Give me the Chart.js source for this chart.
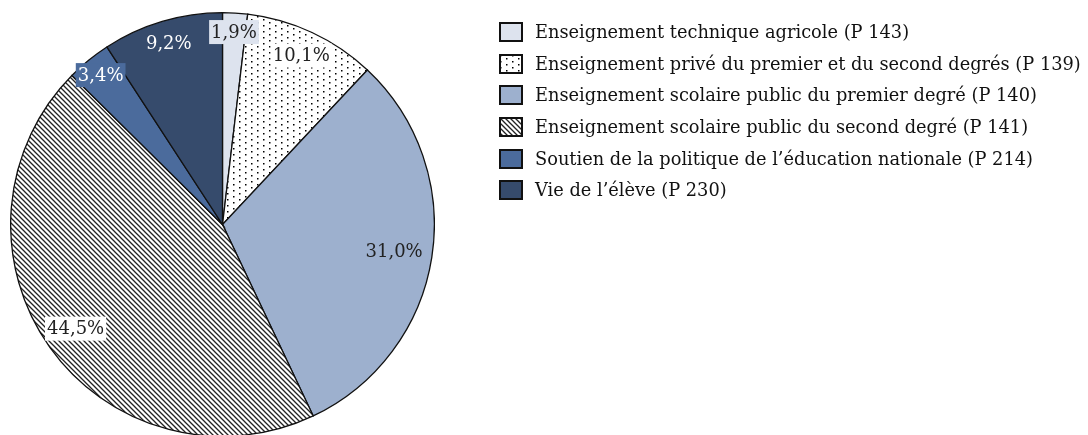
<!DOCTYPE html>
<html>
<head>
<meta charset="utf-8">
<script src="https://cdn.jsdelivr.net/npm/chart.js@4"></script>
<style>
  body { margin: 0; background: #fff; width: 1088px; height: 435px; overflow: hidden; position: relative; font-family: "DejaVu Serif", "Liberation Serif", serif; }
  #pieBox { position: absolute; left: 10px; top: 12px; width: 425px; height: 425px; }
  #legend { position: absolute; left: 499px; top: 21px; }
  .item { height: 31.7px; display: flex; align-items: flex-start; font-size: 17.8px; color: #111; white-space: nowrap; }
  .item canvas { width: 24px; height: 20px; margin-right: 12px; margin-top: 1px; }
</style>
</head>
<body>
<div id="pieBox"><canvas id="pie"></canvas></div>
<div id="legend"></div>
<script>
// data
var labels = ['Enseignement technique agricole (P 143)', 'Enseignement privé du premier et du second degrés (P 139)', 'Enseignement scolaire public du premier degré (P 140)', 'Enseignement scolaire public du second degré (P 141)', 'Soutien de la politique de l\u2019éducation nationale (P 214)', 'Vie de l\u2019élève (P 230)'];
var shares = [1.9, 10.1, 31.0, 44.5, 3.4, 9.2];
var valueText = ['1,9%', '10,1%', '31,0%', '44,5%', '3,4%', '9,2%'];

// styles
var fills = ['#dde3ee', 'dots', '#9db0ce', 'hatch', '#4b6b9c', '#364b6c'];
var labelBg = ['#dde3ee', '#ffffff', null, '#ffffff', '#4b6b9c', null];
var labelColor = ['#222', '#222', '#222', '#222', '#fff', '#fff'];
var labelRadius = [0.91, 0.88, 0.82, 0.85, 0.91, 0.89];

function makePattern(kind) {
  var c = document.createElement('canvas');
  var g = c.getContext('2d');
  if (kind === 'dots') {
    c.width = 12; c.height = 12;
    g.fillStyle = '#fff'; g.fillRect(0, 0, 12, 12);
    g.fillStyle = '#000';
    g.fillRect(1, 1, 1.5, 1.5); g.fillRect(7, 4, 1.5, 1.5);
    g.fillRect(1, 7, 1.5, 1.5); g.fillRect(7, 10, 1.5, 1.5);
  } else {
    c.width = 5; c.height = 5;
    g.fillStyle = '#fff'; g.fillRect(0, 0, 5, 5);
    g.strokeStyle = '#222'; g.lineWidth = 1.3;
    g.beginPath();
    g.moveTo(-1, -1); g.lineTo(6, 6);
    g.moveTo(-1, 4); g.lineTo(1, 6);
    g.moveTo(4, -1); g.lineTo(6, 1);
    g.stroke();
  }
  return g.createPattern(c, 'repeat');
}

function getFill(f) {
  return (f === 'dots' || f === 'hatch') ? makePattern(f) : f;
}

var colors = fills.map(getFill);

// labels drawn on the slices
var sliceLabels = {
  id: 'sliceLabels',
  afterDatasetsDraw: function(chart) {
    var ctx = chart.ctx;
    var arcs = chart.getDatasetMeta(0).data;
    ctx.save();
    ctx.font = '18px "DejaVu Serif", serif';
    ctx.textAlign = 'center';
    ctx.textBaseline = 'middle';
    for (var i = 0; i < arcs.length; i++) {
      var a = arcs[i];
      var mid = (a.startAngle + a.endAngle) / 2;
      var r = a.outerRadius * labelRadius[i];
      var x = a.x + Math.cos(mid) * r;
      var y = a.y + Math.sin(mid) * r;
      var w = ctx.measureText(valueText[i]).width;
      if (labelBg[i]) {
        ctx.fillStyle = labelBg[i];
        ctx.fillRect(x - w / 2 - 2, y - 12, w + 4, 24);
      }
      ctx.fillStyle = labelColor[i];
      ctx.fillText(valueText[i], x, y + 1);
    }
    ctx.restore();
  }
};

new Chart(document.getElementById('pie'), {
  type: 'pie',
  data: {
    labels: labels,
    datasets: [{
      data: shares,
      backgroundColor: colors,
      borderColor: '#111',
      borderWidth: 1.3,
      borderJoinStyle: 'miter'
    }]
  },
  options: {
    responsive: true,
    maintainAspectRatio: false,
    animation: false,
    layout: { padding: 0 },
    plugins: { legend: { display: false }, tooltip: { enabled: false } }
  },
  plugins: [sliceLabels]
});

// legend
var legend = document.getElementById('legend');
for (var i = 0; i < labels.length; i++) {
  var row = document.createElement('div');
  row.className = 'item';
  var box = document.createElement('canvas');
  box.width = 24; box.height = 20;
  var g = box.getContext('2d');
  g.fillStyle = getFill(fills[i]);
  g.fillRect(0, 0, 24, 20);
  g.strokeStyle = '#111'; g.lineWidth = 2;
  g.strokeRect(1, 1, 22, 18);
  row.appendChild(box);
  var span = document.createElement('span');
  span.textContent = labels[i];
  row.appendChild(span);
  legend.appendChild(row);
}
</script>
</body>
</html>
